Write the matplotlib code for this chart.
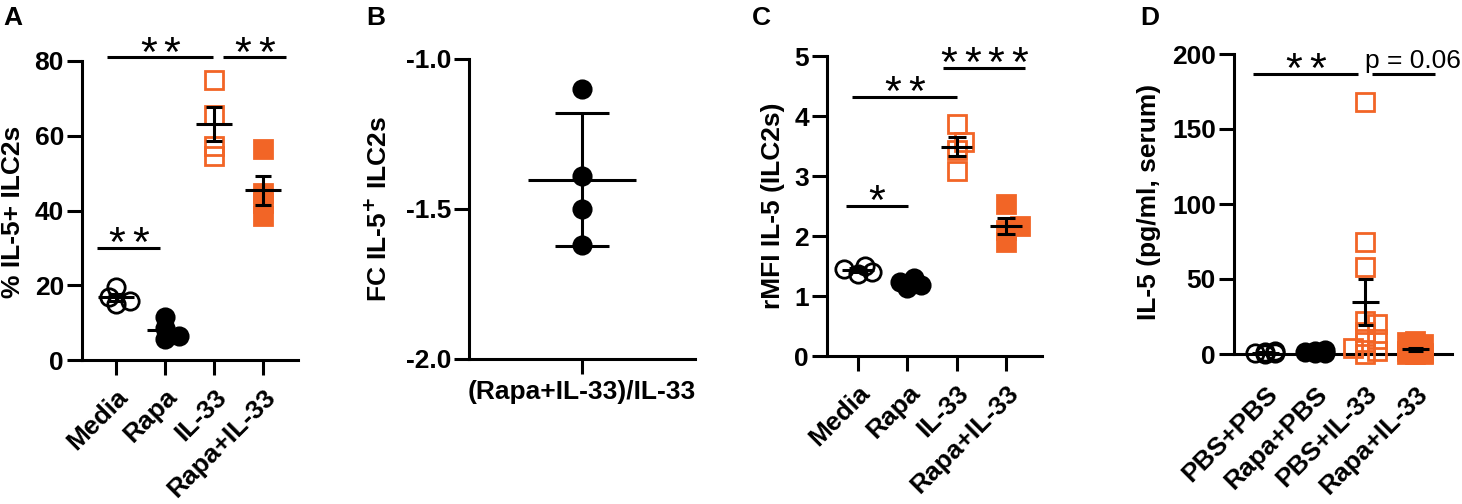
import numpy as np
import matplotlib
matplotlib.use("Agg")
import matplotlib.pyplot as plt

plt.rcParams['font.family'] = ['Liberation Sans', 'DejaVu Sans']
plt.rcParams['font.weight'] = 'bold'
plt.rcParams['axes.unicode_minus'] = False

# ---- data ----
groups_ac = ['Media', 'Rapa', 'IL-33', 'Rapa+IL-33']
a_media = [19.5, 16.8, 15.8, 14.9]
a_rapa = [11.5, 8.5, 6.5, 5.5]
a_il33 = [74.9, 65.6, 57.3, 54.7]
a_rapa_il33 = [56.5, 44.8, 42.1, 38.4]

group_b = ['(Rapa+IL-33)/IL-33']
b_fc = [-1.10, -1.39, -1.50, -1.62]

c_media = [1.50, 1.45, 1.40, 1.37]
c_rapa = [1.30, 1.24, 1.19, 1.14]
c_il33 = [3.87, 3.57, 3.43, 3.09]
c_rapa_il33 = [2.53, 2.16, 2.10, 1.90]

groups_d = ['PBS+PBS', 'Rapa+PBS', 'PBS+IL-33', 'Rapa+IL-33']
d_pbs_pbs = [2.0, 1.5, 1.0, 0.5, 0.0]
d_rapa_pbs = [2.5, 2.0, 1.5, 1.0, 0.5]
d_pbs_il33 = [168, 75, 58, 22, 20, 15, 10, 8, 4, 2, 0]
d_rapa_il33 = [9, 8, 7, 4, 2, 1, 1, 0, 0, 0]

ORANGE = '#f26526'
FS = 19
W, H = 1462, 504
fig = plt.figure(figsize=(W / 100, H / 100), dpi=100)


def make_ax(l, r, t, b, xlim, ylim, yticks):
    # axes placed by pixel box of the spines
    ax = fig.add_axes([l / W, 1 - b / H, (r - l) / W, (b - t) / H])
    ax.set_xlim(*xlim)
    ax.set_ylim(*ylim)
    ax.set_yticks(yticks)
    for s in ['top', 'right']:
        ax.spines[s].set_visible(False)
    for s in ['left', 'bottom']:
        ax.spines[s].set_linewidth(2.2)
    ax.tick_params(length=11, width=2.2, labelsize=FS, pad=2)
    return ax


def swarm(ax, xc, vals, size_px=20, K=2, step=0.35):
    # simple beeswarm in pixel space
    tr = ax.transData
    ypix = tr.transform(np.column_stack([np.full(len(vals), xc), vals]))[:, 1]
    cands = [0]
    for k in range(1, K + 1):
        cands += [k, -k]
    placed = []
    offs = np.zeros(len(vals))
    for i in np.argsort(ypix):
        best, bestd = 0, -1
        for k in cands:
            dx = k * step * size_px
            d = min([np.hypot(dx - px, ypix[i] - py) for px, py in placed] or [1e9])
            if d >= size_px * 0.45:
                best = dx
                break
            if d > bestd:
                best, bestd = dx, d
        offs[i] = best
        placed.append((best, ypix[i]))
    ppu = tr.transform((1, 0))[0] - tr.transform((0, 0))[0]
    return xc + offs / ppu


def draw_group(ax, xc, vals, marker, filled, color, half_mean, half_cap,
               err='sem', K=2, step=0.35):
    xs = swarm(ax, xc, vals, K=K, step=step)
    ax.plot(xs, vals, linestyle='none', marker=marker, ms=12.5,
            mfc=color if filled else 'none', mec=color, mew=2,
            clip_on=False, zorder=3)
    v = np.array(vals, dtype=float)
    m = v.mean()
    e = v.std(ddof=1)
    if err == 'sem':
        e = e / np.sqrt(len(v))
    kw = dict(color='black', lw=2.2, zorder=4, clip_on=False, solid_capstyle='butt')
    ax.plot([xc - half_mean, xc + half_mean], [m, m], **kw)
    ax.plot([xc, xc], [m - e, m + e], **kw)
    ax.plot([xc - half_cap, xc + half_cap], [m + e, m + e], **kw)
    ax.plot([xc - half_cap, xc + half_cap], [m - e, m - e], **kw)


def sig(ax, x0, x1, y, n_stars):
    ax.plot([x0, x1], [y, y], color='black', lw=2.2, clip_on=False, solid_capstyle='butt')
    gap = 17  # points between star centres
    for i in range(n_stars):
        dx = (i - (n_stars - 1) / 2) * gap
        ax.annotate('*', ((x0 + x1) / 2, y), xytext=(dx, -6), textcoords='offset points',
                    ha='center', va='baseline', fontsize=31, fontweight='normal',
                    annotation_clip=False)


def rot_labels(ax, labels, pad):
    ax.set_xticks(range(len(labels)))
    ax.set_xticklabels(labels, rotation=45, ha='right', rotation_mode='anchor')
    ax.tick_params(axis='x', pad=pad)


# ---- A ----
axA = make_ax(82, 298, 61, 360, (-0.69, 3.71), (0, 80), [0, 20, 40, 60, 80])
rot_labels(axA, groups_ac, 7)
draw_group(axA, 0, a_media, 'o', False, 'black', 0.36, 0.17)
draw_group(axA, 1, a_rapa, 'o', True, 'black', 0.36, 0.17)
draw_group(axA, 2, a_il33, 's', False, ORANGE, 0.36, 0.17)
draw_group(axA, 3, a_rapa_il33, 's', True, ORANGE, 0.36, 0.17)
sig(axA, -0.18, 1.98, 81, 2)
sig(axA, 2.18, 3.47, 81, 2)
sig(axA, -0.39, 0.90, 30, 2)

# ---- B ----
axB = make_ax(469, 695, 59, 359, (-1, 1), (-2.0, -1.0), [-2.0, -1.5, -1.0])
axB.set_yticklabels(['-2.0', '-1.5', '-1.0'])
axB.set_xticks([0])
axB.set_xticklabels(group_b)
axB.tick_params(axis='x', pad=4)
draw_group(axB, 0, b_fc, 'o', True, 'black', 0.48, 0.24, err='sd')

# ---- C ----
axC = make_ax(827, 1042, 56, 356, (-0.63, 3.73), (0, 5), [0, 1, 2, 3, 4, 5])
rot_labels(axC, groups_ac, 7)
draw_group(axC, 0, c_media, 'o', False, 'black', 0.32, 0.18)
draw_group(axC, 1, c_rapa, 'o', True, 'black', 0.32, 0.18)
draw_group(axC, 2, c_il33, 's', False, ORANGE, 0.32, 0.18)
draw_group(axC, 3, c_rapa_il33, 's', True, ORANGE, 0.32, 0.18)
sig(axC, -0.12, 2.0, 4.32, 2)
sig(axC, 1.72, 3.39, 4.8, 4)
sig(axC, -0.24, 1.01, 2.5, 1)

# ---- D ----
axD = make_ax(1234, 1452, 54, 354, (-0.62, 3.74), (0, 200), [0, 50, 100, 150, 200])
rot_labels(axD, groups_d, 20)
axD.tick_params(axis='x', length=0)
draw_group(axD, 0, d_pbs_pbs, 'o', False, 'black', 0.27, 0.15, K=1, step=0.5)
draw_group(axD, 1, d_rapa_pbs, 'o', True, 'black', 0.27, 0.15, K=1, step=0.5)
draw_group(axD, 2, d_pbs_il33, 's', False, ORANGE, 0.27, 0.15, K=1, step=0.6)
draw_group(axD, 3, d_rapa_il33, 's', True, ORANGE, 0.27, 0.15, K=1, step=0.4)
sig(axD, -0.24, 1.86, 186.7, 2)
axD.plot([2.14, 3.4], [186.7, 186.7], color='black', lw=2.2, clip_on=False, solid_capstyle='butt')
axD.text(2.0, 190.7, 'p = 0.06', ha='left', va='baseline', fontsize=19, fontweight='normal')

# ---- y labels and panel letters ----
fig.text(13 / W, 1 - 212 / H, '% IL-5+ ILC2s', rotation=90, ha='center', va='center', fontsize=FS)
fig.text(379 / W, 1 - 209 / H, 'FC IL-5$^\\mathbf{+}$ ILC2s', rotation=90, ha='center', va='center', fontsize=FS)
fig.text(773 / W, 1 - 206 / H, 'rMFI IL-5 (ILC2s)', rotation=90, ha='center', va='center', fontsize=FS)
fig.text(1149 / W, 1 - 202 / H, 'IL-5 (pg/ml, serum)', rotation=90, ha='center', va='center', fontsize=FS)

for letter, px in [('A', 3), ('B', 366), ('C', 752), ('D', 1140)]:
    fig.text(px / W, 1 - 25 / H, letter, ha='left', va='baseline', fontsize=19)

fig.savefig('out.png', dpi=100)
